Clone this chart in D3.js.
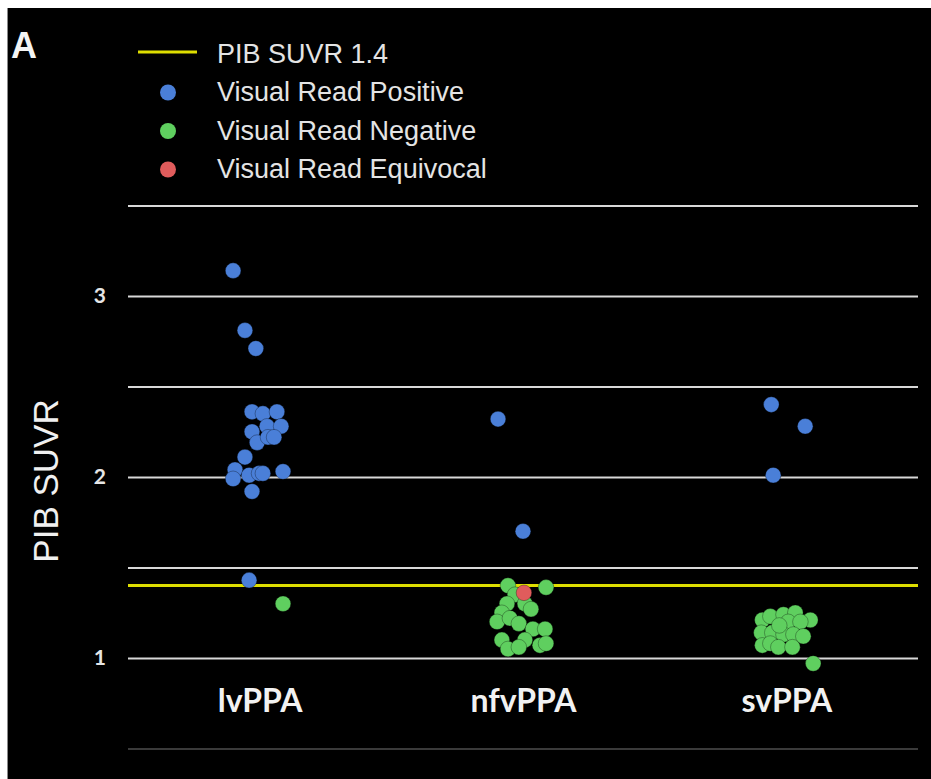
<!DOCTYPE html>
<html>
<head>
<meta charset="utf-8">
<script src="https://cdn.jsdelivr.net/npm/d3@7"></script>
<style>
  html, body { margin: 0; padding: 0; background: #ffffff; }
  svg { display: block; }
</style>
</head>
<body>
<svg id="chart" width="931" height="779"></svg>
<script>
// ---------------- data ----------------
const categories = ["lvPPA", "nfvPPA", "svPPA"];
const readTypes = ["Visual Read Positive", "Visual Read Negative", "Visual Read Equivocal"];
const readColors = ["#4a7fd8", "#5fcf5f", "#e05c5c"];
const thresholdLabel = "PIB SUVR 1.4";
const thresholdValue = 1.4;
const yTicks = [1, 2, 3];
const yGrid = [0.5, 1, 1.5, 2, 2.5, 3, 3.5];
const yTitle = "PIB SUVR";
const panelLetter = "A";

// lvPPA
const lvSuvr   = [3.14, 2.81, 2.71, 2.36, 2.35, 2.36, 2.25, 2.28, 2.28, 2.19, 2.22, 2.22, 2.11, 2.04, 1.99, 2.01, 2.02, 2.02, 2.03, 1.92, 1.43, 1.30];
const lvRead   = ["P","P","P","P","P","P","P","P","P","P","P","P","P","P","P","P","P","P","P","P","P","N"];
const lvJitter = [-0.83, -0.46, -0.12, -0.24, 0.10, 0.54, -0.24, 0.23, 0.67, -0.08, 0.26, 0.45, -0.46, -0.77, -0.83, -0.33, -0.02, 0.10, 0.73, -0.24, -0.33, 0.73];

// nfvPPA
const nfvSuvr   = [2.32, 1.70, 1.40, 1.39, 1.36, 1.35, 1.30, 1.30, 1.27, 1.25, 1.20, 1.22, 1.19, 1.16, 1.16, 1.10, 1.10, 1.05, 1.06, 1.07, 1.08];
const nfvRead   = ["P","P","N","N","E","N","N","N","N","N","N","N","N","N","N","N","N","N","N","N","N"];
const nfvJitter = [-0.78, 0.00, -0.47, 0.72, 0.03, -0.25, -0.50, 0.06, 0.25, -0.66, -0.81, -0.41, -0.13, 0.31, 0.69, -0.66, 0.06, -0.47, -0.13, 0.53, 0.72];

// svPPA
const svSuvr   = [2.40, 2.28, 2.01, 1.21, 1.23, 1.24, 1.25, 1.21, 1.20, 1.20, 1.14, 1.14, 1.13, 1.13, 1.12, 1.07, 1.08, 1.06, 1.06, 0.97, 1.18];
const svRead   = ["P","P","P","N","N","N","N","N","N","N","N","N","N","N","N","N","N","N","N","N","N"];
const svJitter = [-0.47, 0.59, -0.41, -0.75, -0.50, -0.09, 0.28, 0.75, 0.06, 0.44, -0.78, -0.44, -0.09, 0.22, 0.53, -0.75, -0.50, -0.25, 0.19, 0.84, -0.22];

// ---------------- build ----------------
const readIndex = { P: 0, N: 1, E: 2 };
const groups = [
  [categories[0], lvSuvr, lvRead, lvJitter],
  [categories[1], nfvSuvr, nfvRead, nfvJitter],
  [categories[2], svSuvr, svRead, svJitter]
];
const points = [];
groups.forEach(([cat, vals, reads, jit]) => {
  vals.forEach((v, i) => points.push({ cat, v, read: readIndex[reads[i]], j: jit[i] }));
});
// equivocal drawn last
points.sort((a, b) => (a.read === 2) - (b.read === 2));

const svg = d3.select("#chart");
const W = 931, H = 779;

// black panel with white border top/left
svg.append("rect").attr("x", 0).attr("y", 0).attr("width", W).attr("height", H).attr("fill", "#ffffff");
svg.append("rect").attr("x", 7).attr("y", 8).attr("width", W - 7).attr("height", H - 8).attr("fill", "#000000");
svg.append("line").attr("x1", 7.5).attr("x2", 7.5).attr("y1", 8).attr("y2", H)
  .attr("stroke", "#8a8a8a").attr("stroke-width", 1);

const plotLeft = 128, plotRight = 918;
const x = d3.scalePoint().domain(categories).range([plotLeft, plotRight]).padding(0.5);
const y = d3.scaleLinear().domain([1, 3]).range([658, 296]);
const jx = d3.scaleLinear().domain([-1, 1]).range([-32, 32]);

// grid lines
const grid = svg.append("g").attr("transform", `translate(${plotLeft},0)`)
  .call(d3.axisLeft(y).tickValues(yGrid).tickSize(-(plotRight - plotLeft)).tickFormat(""));
grid.select(".domain").remove();
grid.selectAll(".tick line")
  .attr("stroke", d => d === 0.5 ? "#3a3a3a" : "#d8d8d8")
  .attr("stroke-width", 2);

// y tick labels
const yAxis = svg.append("g").attr("transform", `translate(106,0)`)
  .call(d3.axisLeft(y).tickValues(yTicks).tickSize(0).tickPadding(0).tickFormat(d3.format("d")));
yAxis.select(".domain").remove();
yAxis.attr("font-size", null).attr("font-family", null);
yAxis.selectAll(".tick text")
  .attr("fill", "#e6e6e6")
  .style("font-family", "Lato, 'Open Sans', sans-serif")
  .style("font-weight", "bold")
  .style("font-size", "21px")
  .attr("dy", "0.3em")
  .attr("text-anchor", "end");

// threshold line
svg.append("line")
  .attr("x1", plotLeft).attr("x2", plotRight)
  .attr("y1", y(thresholdValue)).attr("y2", y(thresholdValue))
  .attr("stroke", "#dede00").attr("stroke-width", 3);

// category labels
const xAxis = svg.append("g").attr("transform", `translate(0,712)`)
  .call(d3.axisBottom(x).tickSize(0).tickPadding(0));
xAxis.select(".domain").remove();
xAxis.attr("font-size", null).attr("font-family", null);
xAxis.selectAll(".tick text")
  .attr("fill", "#f2f2f2")
  .style("font-family", "Lato, 'Open Sans', sans-serif")
  .style("font-weight", "bold")
  .style("font-size", "32px")
  .attr("dy", 0)
  .attr("y", 0);

// points
svg.append("g").selectAll("circle").data(points).join("circle")
  .attr("cx", d => x(d.cat) + jx(d.j))
  .attr("cy", d => y(d.v))
  .attr("r", 7.8)
  .attr("fill", d => readColors[d.read])
  .attr("stroke", "rgba(0,0,0,0.3)")
  .attr("stroke-width", 1);

// y title
svg.append("text")
  .attr("transform", `translate(58,481) rotate(-90)`)
  .attr("text-anchor", "middle")
  .attr("fill", "#f0f0f0")
  .attr("font-family", "'Liberation Sans', Arial, sans-serif")
  .attr("font-size", 35)
  .text(yTitle);

// panel letter
svg.append("text")
  .attr("x", 11).attr("y", 58)
  .attr("fill", "#f4f4f4")
  .attr("font-family", "'Liberation Sans', Arial, sans-serif")
  .attr("font-weight", "bold")
  .attr("font-size", 36)
  .text(panelLetter);

// legend
const legend = svg.append("g");
const legendFont = "'Liberation Sans', Arial, sans-serif";
legend.append("line").attr("x1", 138).attr("x2", 197).attr("y1", 52).attr("y2", 52)
  .attr("stroke", "#dede00").attr("stroke-width", 3);
legend.append("text").attr("x", 217).attr("y", 63)
  .attr("fill", "#e4e4e4").attr("font-family", legendFont).attr("font-size", 27)
  .text(thresholdLabel);
readTypes.forEach((t, i) => {
  const base = 101 + i * 38.5;
  legend.append("circle").attr("cx", 168).attr("cy", base - 8.5).attr("r", 8)
    .attr("fill", readColors[i]);
  legend.append("text").attr("x", 217).attr("y", base)
    .attr("fill", "#e4e4e4").attr("font-family", legendFont).attr("font-size", 27)
    .text(t);
});
</script>
</body>
</html>
